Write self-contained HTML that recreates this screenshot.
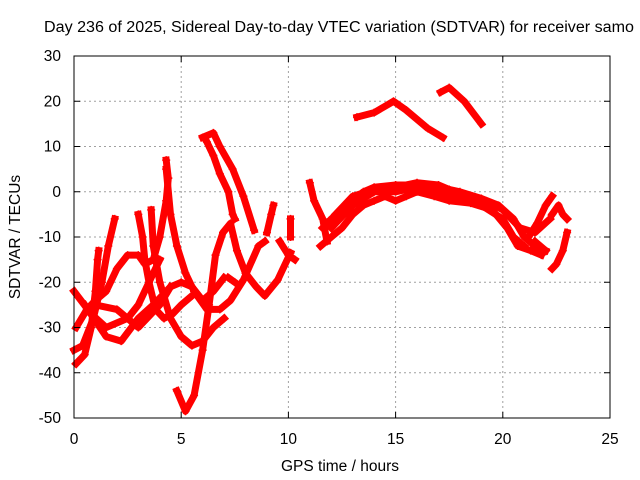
<!DOCTYPE html>
<html><head><meta charset="utf-8"><style>
body{margin:0;background:#fff}
svg{display:block;font-family:"Liberation Sans",sans-serif;font-size:15.5px}
</style></head><body>
<svg id="chart" width="640" height="480">
<text x="44" y="32" textLength="590" lengthAdjust="spacingAndGlyphs">Day 236 of 2025, Sidereal Day-to-day VTEC variation (SDTVAR) for receiver samo</text>
<g id="grid"></g>
<g id="marks"></g>
<rect x="74" y="56" width="536" height="362" fill="none" stroke="#000" stroke-width="1"/>
<g id="axes"></g>
<text x="340" y="471" text-anchor="middle">GPS time / hours</text>
<text transform="translate(20,237) rotate(-90)" text-anchor="middle">SDTVAR / TECUs</text>
</svg>
<script>
const xTicks=[0,5,10,15,20,25];
const yTicks=[30,20,10,0,-10,-20,-30,-40,-50];
const s1=[[0.1,-38],[0.5,-36],[0.8,-30],[1.0,-22],[1.1,-15],[1.15,-13]];
const s2=[[0.0,-35],[0.4,-34],[0.9,-28],[1.3,-20],[1.6,-12],[1.9,-6]];
const s3=[[0.1,-30],[0.6,-26],[1.0,-24],[1.5,-22],[2.0,-17],[2.5,-14],[3.0,-14],[3.3,-16],[3.7,-15],[4.0,-10],[4.3,-2],[4.4,3],[4.3,7]];
const s4=[[3.0,-5],[3.2,-10],[3.3,-15],[3.5,-20],[3.8,-26],[4.2,-28],[4.6,-27],[5.0,-25],[5.5,-23]];
const s5=[[0,-22],[0.8,-27],[1.5,-30],[2.5,-28],[3,-25],[3.5,-20],[4,-15]];
const s6=[[0.5,-25],[1.5,-32],[2.2,-33],[3,-28],[3.7,-25],[4.5,-21],[5,-20],[5.5,-21],[6,-24],[6.5,-22],[7,-19]];
const s7=[[1,-25],[2,-26],[3,-30],[4,-25],[4.5,-21]];
const s8=[[3.6,-4],[3.7,-12],[4.0,-20],[4.5,-28],[5.0,-32],[5.5,-34],[6.0,-33],[6.5,-30],[7,-28]];
const s9=[[4.3,5],[4.5,-5],[4.8,-12],[5.2,-18],[5.6,-22],[6.2,-26],[6.8,-26],[7.3,-24],[7.9,-19.5],[8.6,-12],[8.9,-11]];
const s10=[[4.8,-44],[5.2,-48.5],[5.6,-45],[6.0,-35],[6.3,-25],[6.6,-14],[6.95,-9],[7.3,-7],[7.6,-13],[8.0,-18],[8.5,-21],[8.9,-23],[9.5,-19.5],[10.1,-13.5]];
const s11=[[6.0,12],[6.5,13],[6.8,10],[7.4,5],[7.9,-1],[8.4,-8.5]];
const s12=[[6.2,11],[6.5,8],[6.8,4],[7.2,0],[7.4,-5],[7.5,-6]];
const s13=[[9.0,-9],[9.2,-5],[9.3,-3]];
const s14=[[9.6,-11],[10,-14],[10.3,-15]];
const s15=[[10.1,-6],[10.1,-10]];
const s16=[[7.2,-19],[7.5,-20]];
const s17=[[13.2,16.5],[14,17.5],[14.9,20],[15.5,18],[16.5,14],[17.2,12]];
const s18=[[17.1,22],[17.5,23],[18.2,20],[19,15]];
const s19=[[11.6,-8],[12,-6],[12.5,-4],[13,-2],[13.5,0],[14,1],[15,1.5],[16,1.5],[17,1],[18,0],[19,-1.5],[19.8,-3],[20.5,-6],[21,-10],[21.5,-12],[22,-13]];
const s20=[[11.5,-12],[12,-10],[12.5,-8],[13,-5],[13.5,-3],[14,-2],[14.5,-1],[15,-2],[15.5,-1],[16,0],[16.8,-1],[17.5,-2],[18.5,-2.5],[19.5,-4],[20.2,-8],[20.7,-12],[21.3,-13],[21.8,-14]];
const s21=[[12,-8],[13,-3],[14,0],[15,0],[16,1],[17,0],[18,-1.5],[19,-3],[20,-6],[20.5,-10],[21,-12]];
const s22=[[11,2],[11.2,-2],[11.6,-6],[11.8,-11]];
const s23=[[21.2,-10],[21.6,-7],[22,-3],[22.3,-1]];
const s24=[[22.3,-5],[22.6,-3],[22.8,-5],[23,-6]];
const s25=[[23,-9],[22.8,-13],[22.5,-16],[22.3,-17]];
const s26=[[21.5,-11],[22,-13]];
const s27=[[12.2,-5],[13,-1],[14,0.5],[15,1],[16,2],[17,1.5],[17.5,0.5]];
const s28=[[19.2,-2],[20,-4],[20.8,-8],[21.5,-9],[22.2,-6]];
const seriesList=[s1,s2,s3,s4,s5,s6,s7,s8,s9,s10,s11,s12,s13,s14,s15,s16,s17,s18,s19,s20,s21,s22,s23,s24,s25,s26,s27,s28];

const NS="http://www.w3.org/2000/svg";
const X=h=>74+h*536/25;
const Y=v=>56+(30-v)*362/80;
const grid=document.getElementById('grid'),axes=document.getElementById('axes'),marks=document.getElementById('marks');
function mk(tag,at,parent){const e=document.createElementNS(NS,tag);for(const k in at)e.setAttribute(k,at[k]);parent.appendChild(e);return e;}
xTicks.forEach(t=>{
  const x=X(t);
  if(t>0&&t<25){const g=mk('line',{x1:x,x2:x,y1:56,y2:418,stroke:'#a0a0a0','stroke-dasharray':'2,3'},grid);
  
  }
  const tk=mk('path',{d:`M${x},418v-6M${x},56v6`,stroke:'#000'},axes);
  
  
  const l=mk('text',{x:x,y:444,'text-anchor':'middle'},axes);l.textContent=t;
  
  
});
yTicks.forEach(t=>{
  const y=Y(t);
  if(t<30&&t>-50){const g=mk('line',{x1:74,x2:610,y1:y,y2:y,stroke:'#a0a0a0','stroke-dasharray':'2,3'},grid);
  
  }
  const tk=mk('path',{d:`M74,${y}h6M610,${y}h-6`,stroke:'#000'},axes);
  
  
  const l=mk('text',{x:61,y:y+5,'text-anchor':'end'},axes);l.textContent=t;
  
  
});
seriesList.forEach((s,i)=>{
  const pts=s.map(p=>X(p[0]).toFixed(1)+','+Y(p[1]).toFixed(1)).join(' ');
  const pl=mk('polyline',{points:pts,fill:'none',stroke:'#ff0000','stroke-width':7,'stroke-linejoin':'round','stroke-linecap':'square'},marks);
  
  
  s.forEach(p=>{
    const m=mk('path',{d:`M${X(p[0])-4},${Y(p[1])}h8M${X(p[0])},${Y(p[1])-4}v8`,stroke:'#ff0000','stroke-width':1.5},marks);
    
    
  });
});
</script>
</body></html>
